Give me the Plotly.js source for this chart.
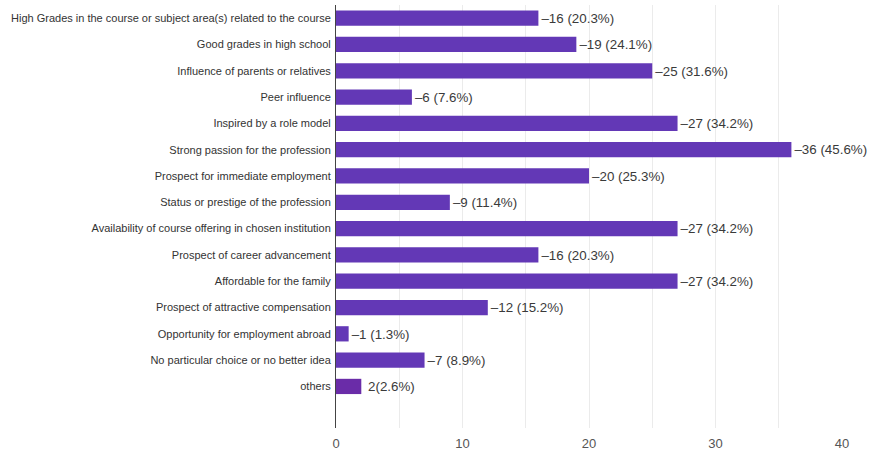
<!DOCTYPE html>
<html>
<head>
<meta charset="utf-8">
<script src="https://cdn.plot.ly/plotly-3.0.1.min.js"></script>
<style>html,body{margin:0;padding:0;background:#fff;}#chart{width:877px;height:460px;}</style>
</head>
<body>
<div id="chart"></div>
<script>
const categories = [
  "High Grades in the course or subject area(s) related to the course",
  "Good grades in high school",
  "Influence of parents or relatives",
  "Peer influence",
  "Inspired by a role model",
  "Strong passion for the profession",
  "Prospect for immediate employment",
  "Status or prestige of the profession",
  "Availability of course offering in chosen institution",
  "Prospect of career advancement",
  "Affordable for the family",
  "Prospect of attractive compensation",
  "Opportunity for employment abroad",
  "No particular choice or no better idea",
  "others"
];
const counts = [16, 19, 25, 6, 27, 36, 20, 9, 27, 16, 27, 12, 1, 7, 2];
const percents = ["20.3", "24.1", "31.6", "7.6", "34.2", "45.6", "25.3", "11.4", "34.2", "20.3", "34.2", "15.2", "1.3", "8.9", "2.6"];
const xTicks = [0, 10, 20, 30, 40];

const positions = categories.map((c, i) => i);
const labels = counts.map((v, i) => i === categories.length - 1
  ? " " + v + "(" + percents[i] + "%)"
  : "\u2013" + v + " (" + percents[i] + "%)");
const colors = categories.map((c, i) => i === categories.length - 1 ? "#6a2ca8" : "#6338b6");

const font = "'Liberation Sans', Arial, sans-serif";

const trace = {
  type: "bar",
  orientation: "h",
  x: counts,
  y: positions,
  width: 0.58,
  marker: {color: colors},
  text: labels,
  textposition: "outside",
  textfont: {family: font, size: 14, color: "#3a3a3a"},
  cliponaxis: false,
  hoverinfo: "skip"
};

const layout = {
  width: 877,
  height: 460,
  margin: {l: 336, r: 35, t: 5, b: 32},
  paper_bgcolor: "#fff",
  plot_bgcolor: "#fff",
  showlegend: false,
  xaxis: {
    range: [0, 40],
    tickvals: xTicks,
    ticktext: xTicks.map(String),
    showgrid: true,
    gridcolor: "#ebebeb",
    minor: {dtick: 5, showgrid: true, gridcolor: "#ebebeb"},
    zeroline: false,
    showline: false,
    ticks: "",
    ticklabelstandoff: 6,
    tickfont: {family: font, size: 13, color: "#555"},
    fixedrange: true
  },
  yaxis: {
    range: [15.58, -0.5],
    tickvals: positions,
    ticktext: categories,
    showgrid: false,
    zeroline: false,
    showline: true,
    linecolor: "#444",
    linewidth: 1,
    ticks: "",
    ticklabelstandoff: 2,
    tickfont: {family: font, size: 11, color: "#333"},
    fixedrange: true
  }
};

Plotly.newPlot("chart", [trace], layout, {displayModeBar: false, staticPlot: true});
</script>
</body>
</html>
